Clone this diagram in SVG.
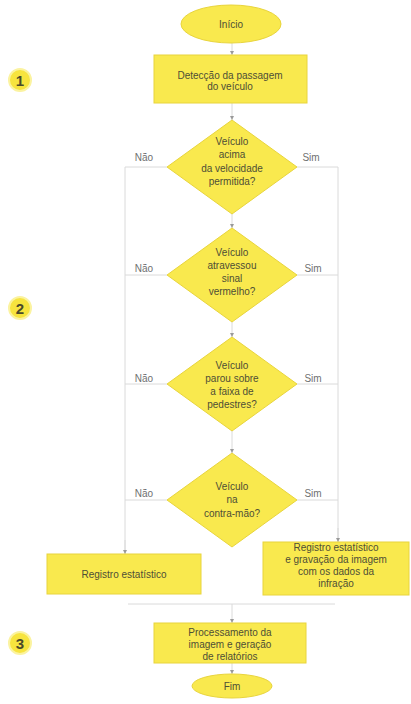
<svg xmlns="http://www.w3.org/2000/svg" width="411" height="704" viewBox="0 0 411 704">
  <style>
    .shape { fill: #f9e94e; stroke: #e8d43c; stroke-width: 1; }
    .txt { font-family: "Liberation Sans", Arial, sans-serif; font-size: 10px; fill: #4e4e36; text-anchor: middle; }
    .lbl { font-family: "Liberation Sans", Arial, sans-serif; font-size: 10px; fill: #707070; text-anchor: middle; }
    .num { font-family: "Liberation Sans", Arial, sans-serif; font-size: 15px; font-weight: bold; fill: #4a4a2a; text-anchor: middle; }
    .badge { fill: #f7e43e; stroke: #fbf3a0; stroke-width: 2; }
    .link { fill: none; stroke: #dadada; stroke-width: 1; }
    .arrow { fill: none; stroke: #dadada; stroke-width: 1; marker-end: url(#tip); }
  </style>
  <defs>
    <marker id="tip" viewBox="0 0 6 6" refX="6" refY="3" markerWidth="4" markerHeight="4" orient="auto">
      <path d="M0,0 L6,3 L0,6 z" fill="#9a9a9a"/>
    </marker>
  </defs>
  <rect width="411" height="704" fill="#ffffff"/>

  <!-- connectors -->
  <g id="connectors">
    <line class="arrow" x1="232" y1="43" x2="232" y2="55"/>
    <line class="arrow" x1="232" y1="103" x2="232" y2="120"/>
    <line class="arrow" x1="232" y1="214" x2="232" y2="228"/>
    <line class="arrow" x1="232" y1="322" x2="232" y2="337"/>
    <line class="arrow" x1="232" y1="431" x2="232" y2="453"/>
    <!-- "Não" branch, left side -->
    <polyline class="link" points="167,167 125,167 125,554"/>
    <line class="link" x1="167" y1="275" x2="125" y2="275"/>
    <line class="link" x1="167" y1="384" x2="125" y2="384"/>
    <line class="link" x1="167" y1="500" x2="125" y2="500"/>
    <line class="arrow" x1="125" y1="540" x2="125" y2="554"/>
    <!-- "Sim" branch, right side -->
    <polyline class="link" points="297,167 338,167 338,542"/>
    <line class="link" x1="297" y1="275" x2="338" y2="275"/>
    <line class="link" x1="297" y1="384" x2="338" y2="384"/>
    <line class="link" x1="297" y1="500" x2="338" y2="500"/>
    <line class="arrow" x1="338" y1="528" x2="338" y2="542"/>
    <!-- merge -->
    <line class="link" x1="128" y1="604" x2="335" y2="604"/>
    <line class="arrow" x1="232" y1="604" x2="232" y2="623"/>
    <line class="arrow" x1="232" y1="663" x2="232" y2="674"/>
  </g>

  <!-- stage badges -->
  <g id="badge1"><circle class="badge" cx="20" cy="80" r="11"/><text class="num" x="20" y="85.5">1</text></g>
  <g id="badge2"><circle class="badge" cx="20" cy="308" r="11"/><text class="num" x="20" y="313.5">2</text></g>
  <g id="badge3"><circle class="badge" cx="20" cy="643" r="11"/><text class="num" x="20" y="648.5">3</text></g>

  <g id="inicio">
    <ellipse class="shape" cx="231" cy="24" rx="50" ry="19"/>
    <text class="txt" x="231" y="28">Início</text>
  </g>

  <g id="deteccao">
    <rect class="shape" x="154" y="55" width="153" height="48"/>
    <text class="txt" x="230" y="79">Detecção da passagem</text>
    <text class="txt" x="230" y="90">do veículo</text>
  </g>

  <g id="decisao1">
    <polygon class="shape" points="232,120 297,167 232,214 167,167"/>
    <text class="txt" x="232" y="145">Veículo</text>
    <text class="txt" x="232" y="158">acima</text>
    <text class="txt" x="232" y="172">da velocidade</text>
    <text class="txt" x="232" y="185">permitida?</text>
    <text class="lbl" x="144" y="161">Não</text>
    <text class="lbl" x="311" y="161">Sim</text>
  </g>

  <g id="decisao2">
    <polygon class="shape" points="232,228 297,275 232,322 167,275"/>
    <text class="txt" x="232" y="256">Veículo</text>
    <text class="txt" x="232" y="269">atravessou</text>
    <text class="txt" x="232" y="282">sinal</text>
    <text class="txt" x="232" y="295">vermelho?</text>
    <text class="lbl" x="144" y="272">Não</text>
    <text class="lbl" x="313" y="272">Sim</text>
  </g>

  <g id="decisao3">
    <polygon class="shape" points="232,337 297,384 232,431 167,384"/>
    <text class="txt" x="232" y="369">Veículo</text>
    <text class="txt" x="232" y="382">parou sobre</text>
    <text class="txt" x="232" y="395">a faixa de</text>
    <text class="txt" x="232" y="408">pedestres?</text>
    <text class="lbl" x="144" y="382">Não</text>
    <text class="lbl" x="313" y="382">Sim</text>
  </g>

  <g id="decisao4">
    <polygon class="shape" points="232,453 297,500 232,547 167,500"/>
    <text class="txt" x="232" y="490">Veículo</text>
    <text class="txt" x="232" y="503">na</text>
    <text class="txt" x="232" y="517">contra-mão?</text>
    <text class="lbl" x="144" y="497">Não</text>
    <text class="lbl" x="313" y="497">Sim</text>
  </g>

  <g id="registro">
    <rect class="shape" x="47" y="554" width="154" height="40"/>
    <text class="txt" x="124" y="578">Registro estatístico</text>
  </g>

  <g id="registroInfracao">
    <rect class="shape" x="263" y="542" width="146" height="53"/>
    <text class="txt" x="336" y="551">Registro estatístico</text>
    <text class="txt" x="336" y="563">e gravação da imagem</text>
    <text class="txt" x="336" y="575">com os dados da</text>
    <text class="txt" x="336" y="587">infração</text>
  </g>

  <g id="processamento">
    <rect class="shape" x="154" y="623" width="152" height="40"/>
    <text class="txt" x="230" y="636">Processamento da</text>
    <text class="txt" x="230" y="648">imagem e geração</text>
    <text class="txt" x="230" y="660">de relatórios</text>
  </g>

  <g id="fim">
    <ellipse class="shape" cx="232" cy="686" rx="40" ry="12"/>
    <text class="txt" x="232" y="690">Fim</text>
  </g>
</svg>
